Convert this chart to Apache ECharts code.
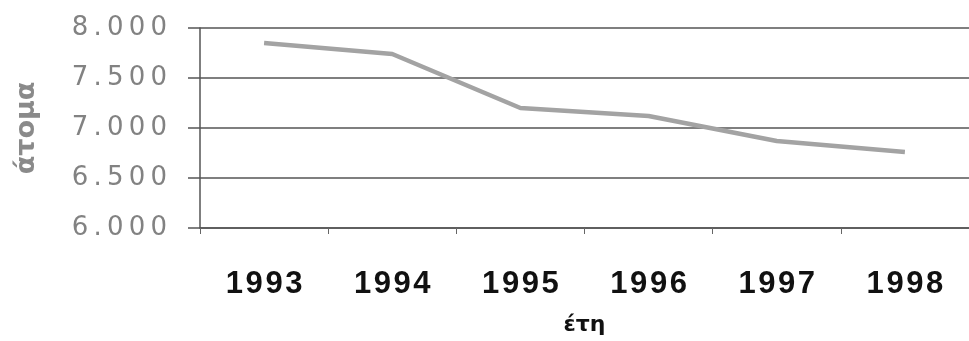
<!DOCTYPE html>
<html>
<head>
<meta charset="utf-8">
<script src="https://cdn.jsdelivr.net/npm/echarts@6/dist/echarts.min.js"></script>
<style>
  html, body { margin: 0; padding: 0; background: #fff; }
  #chart { width: 969px; height: 341px; }
</style>
</head>
<body>
<div id="chart"></div>
<script>
// Annual totals (persons) per year
const years = ['1993', '1994', '1995', '1996', '1997', '1998'];
const persons = [7850, 7740, 7200, 7120, 6870, 6760];
const yTicks = [6000, 6500, 7000, 7500, 8000];

const xAxisTitle = 'έτη';
const yAxisTitle = 'άτομα';

// spread characters apart with narrow spaces
const spaced = (s, gap) => String(s).split('').join(gap);
// Greek-style thousands separator: 8.000
const fmtThousands = v => {
  const s = String(Math.round(v));
  return s.replace(/\B(?=(\d{3})+(?!\d))/g, '.');
};

const chart = echarts.init(document.getElementById('chart'), null, { renderer: 'canvas' });
chart.setOption({
  animation: false,
  backgroundColor: '#ffffff',
  grid: { left: 200, right: -13, top: 28, bottom: 102, containLabel: false },
  xAxis: {
    type: 'category',
    data: years,
    boundaryGap: true,
    name: xAxisTitle,
    nameLocation: 'middle',
    nameGap: 86,
    nameTextStyle: { fontFamily: 'DejaVu Sans', fontWeight: 'bold', fontSize: 22, color: '#111' },
    axisLine: { lineStyle: { color: '#555', width: 1.5 } },
    axisTick: { show: true, length: 6, alignWithLabel: false, lineStyle: { color: '#666', width: 1 } },
    axisLabel: {
      margin: 41,
      fontFamily: 'Liberation Sans',
      fontWeight: 'bold',
      fontSize: 31,
      color: '#111',
      formatter: v => spaced(v, '\u200A')
    },
    splitLine: { show: false }
  },
  yAxis: {
    type: 'value',
    min: yTicks[0],
    max: yTicks[yTicks.length - 1],
    interval: yTicks[1] - yTicks[0],
    name: yAxisTitle,
    nameLocation: 'middle',
    nameRotate: 90,
    nameGap: 160,
    nameTextStyle: { fontFamily: 'DejaVu Sans', fontWeight: 'bold', fontSize: 27, color: '#8a8a8a' },
    axisLine: { show: true, lineStyle: { color: '#555', width: 1.5 } },
    axisTick: { show: true, length: 12, lineStyle: { color: '#555', width: 1.5 } },
    axisLabel: {
      margin: 33,
      fontFamily: 'DejaVu Sans',
      fontSize: 26,
      color: '#828282',
      formatter: v => spaced(fmtThousands(v), '\u2009')
    },
    splitLine: { show: true, lineStyle: { color: '#555', width: 1.5 } }
  },
  series: [{
    type: 'line',
    data: persons,
    showSymbol: false,
    symbol: 'none',
    lineStyle: { color: '#a3a3a3', width: 4.5 },
    z: 3
  }]
});
</script>
</body>
</html>
